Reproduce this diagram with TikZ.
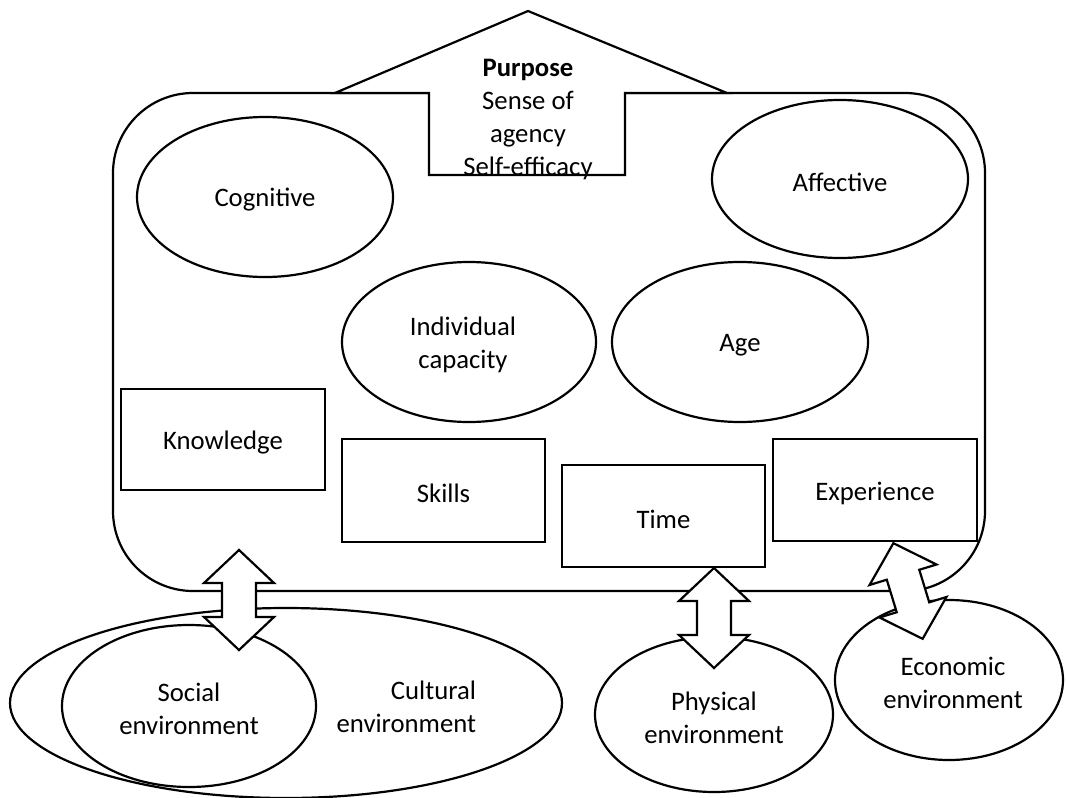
\documentclass[tikz,border=0pt]{standalone}
\usepackage{fontspec}
\setmainfont{Carlito}
\usetikzlibrary{shapes.geometric}
\begin{document}
\begin{tikzpicture}[x=1pt,y=-1pt,
  line width=2.2pt,
  every node/.style={font=\fontsize{26.7}{33}\selectfont, align=center, inner sep=0pt, outer sep=0pt},
  oval/.style={draw, ellipse, fill=white},
  box/.style={draw, rectangle, fill=white},
  lbl/.style={draw=none, fill=none, yshift=-3pt},
  shapeline/.style={draw, fill=white, line join=miter},
  dblarrow/.pic={\path[shapeline] (0,-50) -- (35,-17) -- (17,-17) -- (17,17) -- (35,17) -- (0,50) -- (-35,17) -- (-17,17) -- (-17,-17) -- (-35,-17) -- cycle;}
]
\useasboundingbox (0,0) rectangle (1066,798);
\fill[white] (0,0) rectangle (1066,798);

% bottom environments
\node[oval, minimum width=552pt, minimum height=190pt] (cult) at (286,703) {};
\node[lbl, align=right, anchor=east] (cultT) at (476,704) {Cultural\\environment};
\node[oval, minimum width=254pt, minimum height=162pt] (social) at (189,706) {};
\node[lbl] (socialT) at (social.center) {Social\\environment};
\node[oval, minimum width=238pt, minimum height=155pt] (phys) at (714,714.5) {};
\node[lbl] (physT) at (phys.center) {Physical\\environment};
\node[oval, minimum width=228pt, minimum height=160pt] (econ) at (949,680) {};
\node[lbl] (econT) at (953,680) {Economic\\environment};

% main frame
\node[draw, rounded corners=80pt, minimum width=872pt, minimum height=498pt] (frame) at (549,342) {};

% inner elements
\node[oval, minimum width=256pt, minimum height=160pt] (cog) at (265,197) {};
\node[lbl] (cogT) at (cog.center) {Cognitive};
\node[oval, minimum width=256pt, minimum height=158pt] (aff) at (840,179) {};
\node[lbl] (affT) at (aff.center) {Affective};
\node[oval, minimum width=254pt, minimum height=160pt] (ind) at (469,342) {};
\node[lbl] (indT) at (463,342) {Individual\\capacity};
\node[oval, minimum width=256pt, minimum height=160pt] (age) at (740,342) {};
\node[lbl] (ageT) at (age.center) {Age};
\node[box, minimum width=204pt, minimum height=101pt] (know) at (223,439.5) {};
\node[lbl] (knowT) at (know.center) {Knowledge};
\node[box, minimum width=203pt, minimum height=103pt] (skills) at (443.5,490.5) {};
\node[lbl] (skillsT) at (skills.center) {Skills};
\node[box, minimum width=203pt, minimum height=102pt] (time) at (663.5,516) {};
\node[lbl] (timeT) at (time.center) {Time};
\node[box, minimum width=204pt, minimum height=102pt] (exp) at (875,490) {};
\node[lbl] (expT) at (exp.center) {Experience};

% purpose arrow
\path[shapeline] (335,93) -- (528,11) -- (727,93) -- (625,93) -- (625,175) -- (429,175) -- (429,93) -- cycle;
\node[lbl] (purpose) at (528,116) {\textbf{Purpose}\\Sense of\\agency\\Self-efficacy};

% double arrows
\pic at (239,600) {dblarrow};
\pic at (714,618) {dblarrow};
\pic[rotate=17] at (908,591) {dblarrow};
\end{tikzpicture}
\end{document}
